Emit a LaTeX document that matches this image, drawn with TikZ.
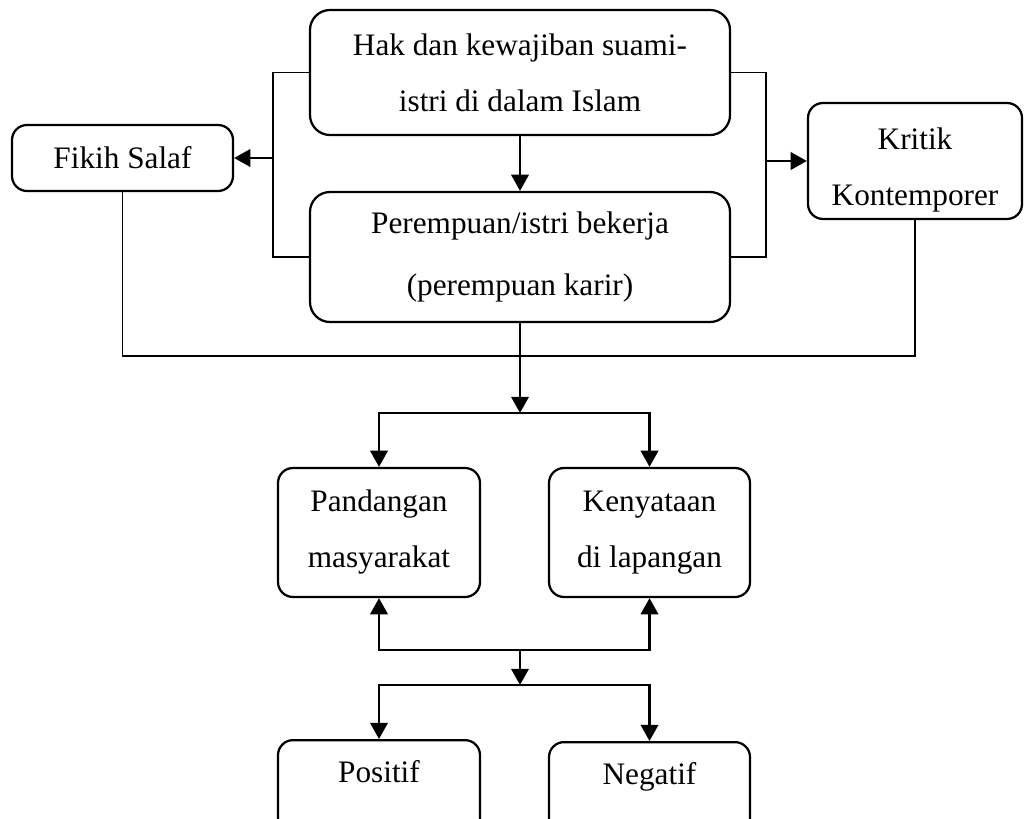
\documentclass[tikz,border=0pt]{standalone}
\usepackage{fontspec}
\setmainfont{Liberation Serif}
\usetikzlibrary{arrows.meta}

\begin{document}
\begin{tikzpicture}[x=0.4pt,y=-0.4pt,
    box/.style={draw,line width=0.9pt,rounded corners=6pt,align=center,
      font=\fontsize{12.5}{22.4}\selectfont,inner sep=2pt},
    bigbox/.style={box,rounded corners=8pt},
    cutbox/.style={box,anchor=north,inner ysep=0pt,text height=17pt,text depth=20pt},
    arr/.style={line width=0.95pt,-{Triangle[width=7pt,length=6.5pt]}},
    link/.style={line width=0.75pt},
    thinlink/.style={line width=0.6pt}]
    \useasboundingbox (0,0) rectangle (1024,818);
    \clip (0,0) rectangle (1024,818);

    \node[bigbox,minimum width=168pt,minimum height=50pt] (hak) at (520,72.5)
      {Hak dan kewajiban suami-\\istri di dalam Islam};
    \node[bigbox,minimum width=168pt,minimum height=52pt] (kerja) at (520,257)
      {Perempuan/istri bekerja\\[2.5pt](perempuan karir)};
    \node[box,minimum width=88.4pt,minimum height=26.4pt] (fikih) at (122.5,158)
      {Fikih Salaf};
    \node[box,minimum width=85.6pt,minimum height=46.4pt] (kritik) at (915,161)
      {\rule{0pt}{15.5pt}Kritik\\Kontemporer};

    \node[box,minimum width=80.8pt,minimum height=51.6pt] (pandangan) at (379,532.5)
      {Pandangan\\masyarakat};
    \node[box,minimum width=80.4pt,minimum height=51.6pt] (kenyataan) at (649.5,532.5)
      {Kenyataan\\di lapangan};

    \node[cutbox,minimum width=80.8pt] (positif) at (379,739) {Positif};
    \node[cutbox,minimum width=80.4pt] (negatif) at (649.5,741) {Negatif};

    \coordinate (lb) at (273,158);
    \coordinate (rb) at (766,161);
    \coordinate (base) at (520,356);
    \coordinate (split1) at (520,413);
    \coordinate (join) at (520,650);
    \coordinate (split2) at (520,685);

    \draw[arr] (hak.south) -- (kerja.north);
    \draw[link] (hak.west) -| (lb) |- (kerja.west);
    \draw[arr] (lb) -- (fikih.east);
    \draw[link] (hak.east) -| (rb) |- (kerja.east);
    \draw[arr] (rb) -- (kritik.west);
    \draw[thinlink] (fikih.south) |- (base) -| (kritik.south);

    \draw[arr] (kerja.south) -- (split1);
    \draw[arr] (split1) -| (pandangan.north);
    \draw[arr] (split1) -| (kenyataan.north);

    \draw[arr] (join) -| (pandangan.south);
    \draw[arr] (join) -| (kenyataan.south);
    \draw[arr] (join) -- (split2);
    \draw[arr] (split2) -| (positif.north);
    \draw[arr] (split2) -| (negatif.north);
\end{tikzpicture}
\end{document}
